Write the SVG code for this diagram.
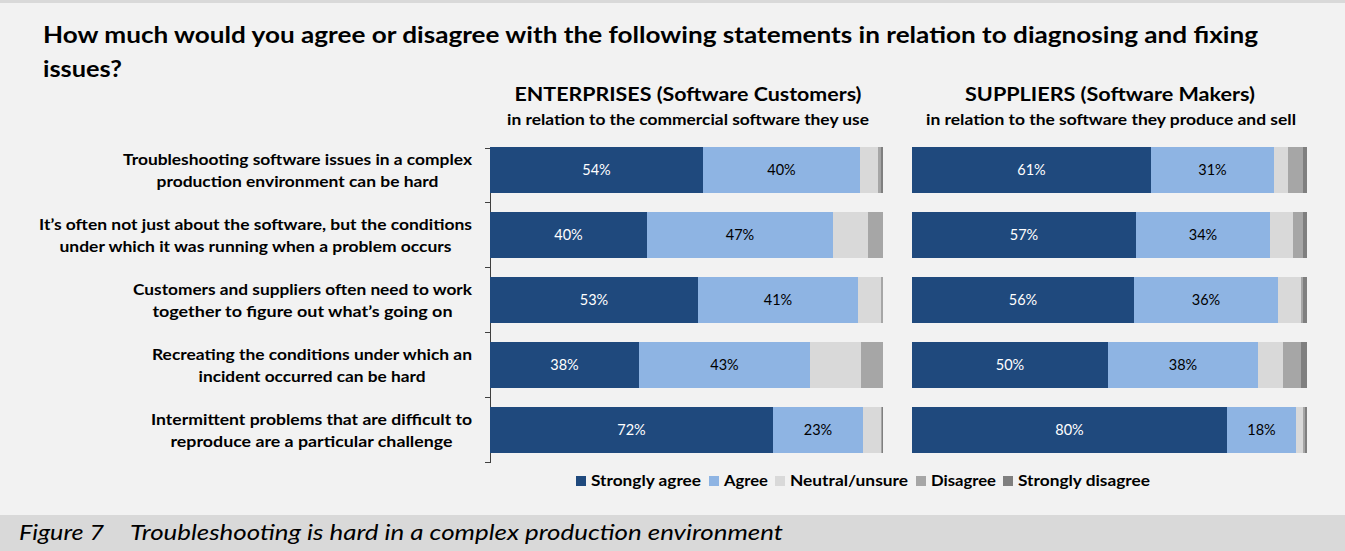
<svg xmlns="http://www.w3.org/2000/svg" width="1345" height="551" viewBox="0 0 1345 551">
<style>
text{font-family:Lato,"Liberation Sans",Arial,sans-serif;fill:#000}
.t{font-size:23px;font-weight:bold}
.h{font-size:19px;font-weight:bold;text-anchor:middle}
.s{font-size:15px;font-weight:bold;text-anchor:middle}
.l{font-size:15px;font-weight:bold;text-anchor:middle}
.p{font-size:14.5px;text-anchor:middle}
.w{fill:#fff}
.lg{font-size:15px;font-weight:bold}
.cap{font-size:21px;font-style:italic}
.sa{fill:#1f497d}.a{fill:#8eb4e3}.n{fill:#d9d9d9}.d{fill:#a6a6a6}.sd{fill:#7f7f7f}
</style>
<rect x="0" y="0" width="1345" height="551" fill="#f2f2f2"/>
<rect x="0" y="0" width="1345" height="3" fill="#d9d9d9"/>
<rect x="0" y="515" width="1345" height="36" fill="#d9d9d9"/>

<g id="title">
<text class="t" x="43" y="43" textLength="1215" lengthAdjust="spacingAndGlyphs">How much would you agree or disagree with the following statements in relation to diagnosing and fixing</text>
<text class="t" x="43" y="77" textLength="79" lengthAdjust="spacingAndGlyphs">issues?</text>
</g>

<g id="header-enterprises">
<text class="h" x="688" y="101" textLength="347" lengthAdjust="spacingAndGlyphs">ENTERPRISES (Software Customers)</text>
<text class="s" x="688" y="125" textLength="362" lengthAdjust="spacingAndGlyphs">in relation to the commercial software they use</text>
</g>
<g id="header-suppliers">
<text class="h" x="1110" y="101" textLength="290" lengthAdjust="spacingAndGlyphs">SUPPLIERS (Software Makers)</text>
<text class="s" x="1111" y="125" textLength="370" lengthAdjust="spacingAndGlyphs">in relation to the software they produce and sell</text>
</g>

<g id="labels">
<g id="label-1">
<text class="l" x="297.5" y="165" textLength="349" lengthAdjust="spacingAndGlyphs">Troubleshooting software issues in a complex</text>
<text class="l" x="297.5" y="187" textLength="282" lengthAdjust="spacingAndGlyphs">production environment can be hard</text>
</g>
<g id="label-2">
<text class="l" x="255.5" y="230" textLength="433" lengthAdjust="spacingAndGlyphs">It’s often not just about the software, but the conditions</text>
<text class="l" x="255.5" y="252" textLength="392" lengthAdjust="spacingAndGlyphs">under which it was running when a problem occurs</text>
</g>
<g id="label-3">
<text class="l" x="302.5" y="295" textLength="339" lengthAdjust="spacingAndGlyphs">Customers and suppliers often need to work</text>
<text class="l" x="302.5" y="317" textLength="300" lengthAdjust="spacingAndGlyphs">together to figure out what’s going on</text>
</g>
<g id="label-4">
<text class="l" x="312" y="360" textLength="320" lengthAdjust="spacingAndGlyphs">Recreating the conditions under which an</text>
<text class="l" x="312" y="382" textLength="227" lengthAdjust="spacingAndGlyphs">incident occurred can be hard</text>
</g>
<g id="label-5">
<text class="l" x="311.5" y="425" textLength="321" lengthAdjust="spacingAndGlyphs">Intermittent problems that are difficult to</text>
<text class="l" x="311.5" y="447" textLength="282" lengthAdjust="spacingAndGlyphs">reproduce are a particular challenge</text>
</g>
</g>

<g id="connectors" stroke="#404040" stroke-width="1" fill="none">
<path d="M490.5 148V463M485 148.5H490.5M485 202.5H490.5M485 267.5H490.5M485 332.5H490.5M485 397.5H490.5M485 462.5H490.5"/>
</g>

<g id="enterprises-bars">
<g id="ent-row-1">
<rect class="sa" x="490" y="147" width="213" height="46"/>
<rect class="a" x="703" y="147" width="157" height="46"/>
<rect class="n" x="860" y="147" width="18" height="46"/>
<rect class="d" x="878" y="147" width="2.5" height="46"/>
<rect class="sd" x="880.5" y="147" width="2.5" height="46"/>
<text class="p w" x="596.5" y="175">54%</text>
<text class="p" x="781.5" y="175">40%</text>
</g>
<g id="ent-row-2">
<rect class="sa" x="490" y="212" width="157" height="46"/>
<rect class="a" x="647" y="212" width="186" height="46"/>
<rect class="n" x="833" y="212" width="35" height="46"/>
<rect class="d" x="868" y="212" width="15" height="46"/>
<text class="p w" x="568.5" y="240">40%</text>
<text class="p" x="740" y="240">47%</text>
</g>
<g id="ent-row-3">
<rect class="sa" x="490" y="277" width="208" height="46"/>
<rect class="a" x="698" y="277" width="160" height="46"/>
<rect class="n" x="858" y="277" width="23" height="46"/>
<rect class="d" x="881" y="277" width="2" height="46"/>
<text class="p w" x="594" y="305">53%</text>
<text class="p" x="778" y="305">41%</text>
</g>
<g id="ent-row-4">
<rect class="sa" x="490" y="342" width="149" height="46"/>
<rect class="a" x="639" y="342" width="171" height="46"/>
<rect class="n" x="810" y="342" width="51" height="46"/>
<rect class="d" x="861" y="342" width="22" height="46"/>
<text class="p w" x="564.5" y="370">38%</text>
<text class="p" x="724.5" y="370">43%</text>
</g>
<g id="ent-row-5">
<rect class="sa" x="490" y="407" width="283" height="46"/>
<rect class="a" x="773" y="407" width="90" height="46"/>
<rect class="n" x="863" y="407" width="18" height="46"/>
<rect class="d" x="881" y="407" width="1" height="46"/>
<rect class="sd" x="882" y="407" width="1" height="46"/>
<text class="p w" x="631.5" y="435">72%</text>
<text class="p" x="818" y="435">23%</text>
</g>
</g>

<g id="suppliers-bars">
<g id="sup-row-1">
<rect class="sa" x="912" y="147" width="239" height="46"/>
<rect class="a" x="1151" y="147" width="123" height="46"/>
<rect class="n" x="1274" y="147" width="14" height="46"/>
<rect class="d" x="1288" y="147" width="15" height="46"/>
<rect class="sd" x="1303" y="147" width="4" height="46"/>
<text class="p w" x="1031.5" y="175">61%</text>
<text class="p" x="1212.5" y="175">31%</text>
</g>
<g id="sup-row-2">
<rect class="sa" x="912" y="212" width="224" height="46"/>
<rect class="a" x="1136" y="212" width="134" height="46"/>
<rect class="n" x="1270" y="212" width="23" height="46"/>
<rect class="d" x="1293" y="212" width="10" height="46"/>
<rect class="sd" x="1303" y="212" width="4" height="46"/>
<text class="p w" x="1024" y="240">57%</text>
<text class="p" x="1203" y="240">34%</text>
</g>
<g id="sup-row-3">
<rect class="sa" x="912" y="277" width="222" height="46"/>
<rect class="a" x="1134" y="277" width="144" height="46"/>
<rect class="n" x="1278" y="277" width="23" height="46"/>
<rect class="d" x="1301" y="277" width="2" height="46"/>
<rect class="sd" x="1303" y="277" width="4" height="46"/>
<text class="p w" x="1023" y="305">56%</text>
<text class="p" x="1206" y="305">36%</text>
</g>
<g id="sup-row-4">
<rect class="sa" x="912" y="342" width="196" height="46"/>
<rect class="a" x="1108" y="342" width="150" height="46"/>
<rect class="n" x="1258" y="342" width="25" height="46"/>
<rect class="d" x="1283" y="342" width="18" height="46"/>
<rect class="sd" x="1301" y="342" width="6" height="46"/>
<text class="p w" x="1010" y="370">50%</text>
<text class="p" x="1183" y="370">38%</text>
</g>
<g id="sup-row-5">
<rect class="sa" x="912" y="407" width="315" height="46"/>
<rect class="a" x="1227" y="407" width="69" height="46"/>
<rect class="n" x="1296" y="407" width="7" height="46"/>
<rect class="d" x="1303" y="407" width="1.5" height="46"/>
<rect class="sd" x="1304.5" y="407" width="2.5" height="46"/>
<text class="p w" x="1069.5" y="435">80%</text>
<text class="p" x="1261.5" y="435">18%</text>
</g>
</g>

<g id="legend">
<rect class="sa" x="576" y="476" width="10" height="10"/>
<text class="lg" x="591" y="486" textLength="110" lengthAdjust="spacingAndGlyphs">Strongly agree</text>
<rect class="a" x="709" y="476" width="10" height="10"/>
<text class="lg" x="724" y="486" textLength="44" lengthAdjust="spacingAndGlyphs">Agree</text>
<rect class="n" x="775" y="476" width="10" height="10"/>
<text class="lg" x="790" y="486" textLength="118" lengthAdjust="spacingAndGlyphs">Neutral/unsure</text>
<rect class="d" x="916" y="476" width="10" height="10"/>
<text class="lg" x="931" y="486" textLength="65" lengthAdjust="spacingAndGlyphs">Disagree</text>
<rect class="sd" x="1003" y="476" width="10" height="10"/>
<text class="lg" x="1018" y="486" textLength="132" lengthAdjust="spacingAndGlyphs">Strongly disagree</text>
</g>

<g id="caption">
<text class="cap" x="19" y="540" textLength="85" lengthAdjust="spacingAndGlyphs">Figure 7</text>
<text class="cap" x="130" y="540" textLength="653" lengthAdjust="spacingAndGlyphs">Troubleshooting is hard in a complex production environment</text>
</g>
</svg>
